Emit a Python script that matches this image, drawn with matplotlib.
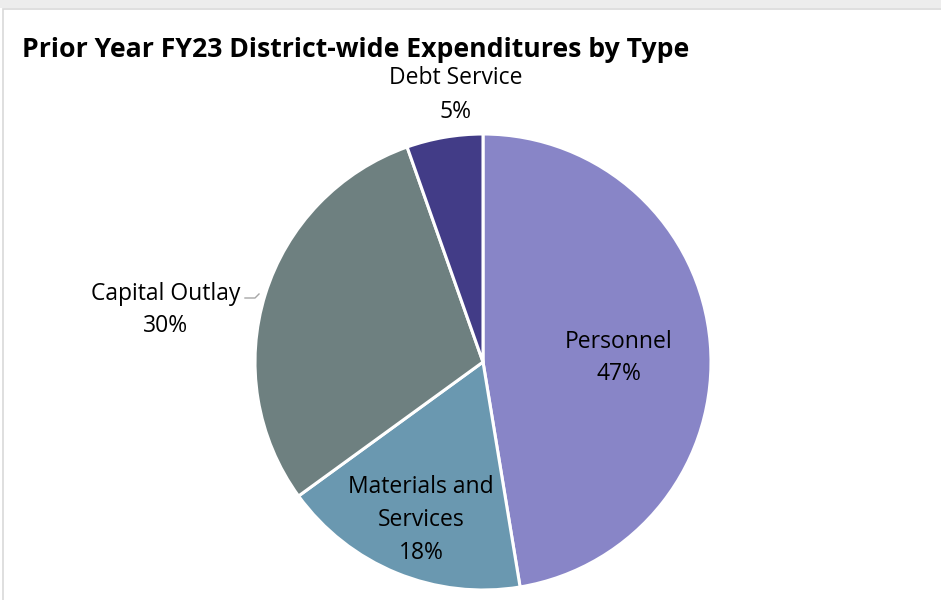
import matplotlib
matplotlib.use("Agg")
import matplotlib.pyplot as plt
from matplotlib.patches import Rectangle
from matplotlib.lines import Line2D

categories = ["Personnel", "Materials and\nServices", "Capital Outlay", "Debt Service"]
values = [47.4, 17.6, 29.6, 5.4]
colors = ["#8885C7", "#6A98B0", "#6E8080", "#423C87"]
title = "Prior Year FY23 District-wide Expenditures by Type"

W, H = 941, 600
fig = plt.figure(figsize=(W / 100, H / 100), dpi=100)
ax = fig.add_axes([0, 0, 1, 1])

# background frame
fig.patches.append(Rectangle((0, 1 - 8 / H), 1, 8 / H, transform=fig.transFigure,
                             facecolor="#EDEDED", edgecolor="none"))
ax.add_patch(Rectangle((3, 9), W + 10, H, facecolor="white", edgecolor="#D9D9D9", lw=1.2))

cx, cy, r = 483, 362, 228
# y axis is inverted: startangle -90 points up, counterclock=True draws clockwise on screen
wedges, _ = ax.pie(values, center=(cx, cy), radius=r, startangle=-90, counterclock=True,
                   colors=colors, frame=True,
                   wedgeprops=dict(edgecolor="white", linewidth=2.2))
ax.set_xlim(0, W)
ax.set_ylim(H, 0)
ax.set_aspect("equal")
ax.axis("off")

font = "Open Sans"
label_pos = [(619, 358), (421, 520), (166, 310), (456, 95)]
total = sum(values)
for cat, v, (x, y) in zip(categories, values, label_pos):
    ax.text(x, y, f"{cat}\n{round(v / total * 100)}%", ha="center", va="center",
            fontsize=16.5, family=font, linespacing=1.5, color="black")

ax.add_line(Line2D([245, 255, 259], [298, 298, 294], color="#A6A6A6", lw=1))

ax.text(22, 50, title, ha="left", va="center", fontsize=19.2, fontweight="bold",
        family=font, color="black")

fig.savefig("out.png", dpi=100)
